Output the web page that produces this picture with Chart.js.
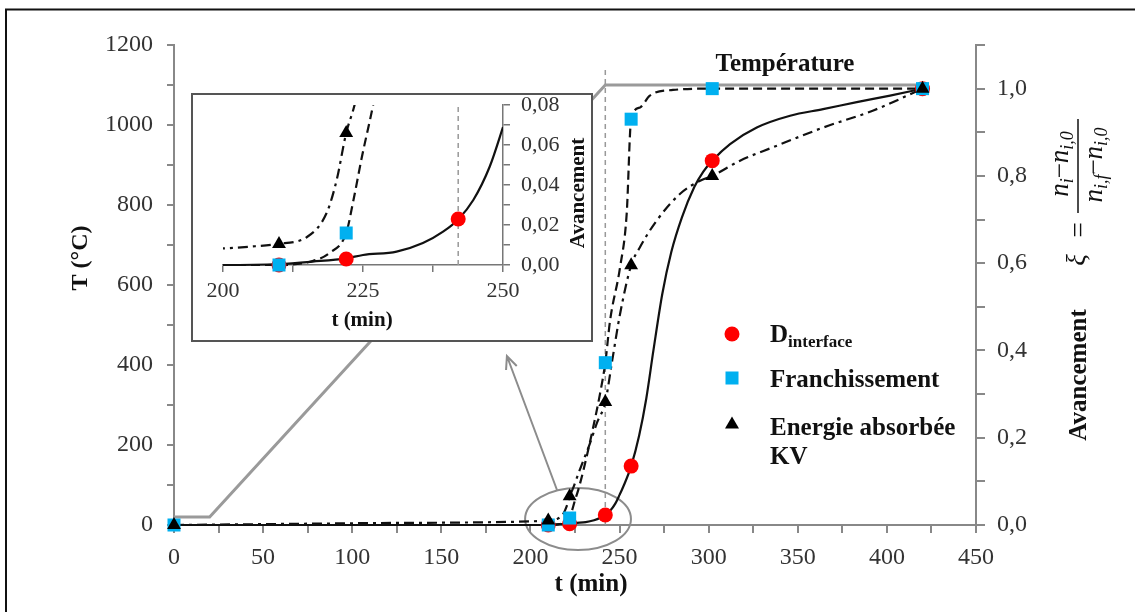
<!DOCTYPE html>
<html>
<head>
<meta charset="utf-8">
<script src="https://cdn.jsdelivr.net/npm/chart.js@4.4.1/dist/chart.umd.min.js"></script>
<style>
body { margin: 0; background: #fff; overflow: hidden; }
#wrap { position: relative; width: 1135px; height: 612px; }
#main { display: block; }
#inset { position: absolute; left: 191px; top: 93px; width: 402px; height: 249px; box-sizing: border-box; border: 2px solid #555; background: #fff; }
#zoom { display: block; }
</style>
</head>
<body>
<div id="wrap">
  <canvas id="main" width="1135" height="612"></canvas>
  <div id="inset"><canvas id="zoom" width="398" height="245"></canvas></div>
</div>
<script>
// temperature programme (left axis, °C)
const tempT = [0, 20, 242, 420];
const tempC = [20, 20, 1100, 1100];

// measured points (right axis, avancement)
const sampleT = [0, 210, 222, 242, 256.5, 302, 420];
const dInterfaceT = [210, 222, 242, 256.5, 302, 420];
const dInterfaceXi = [0, 0.003, 0.023, 0.135, 0.835, 1.0];
const franchXi = [0, 0, 0.016, 0.372, 0.93, 1.0, 1.0];
const energieXi = [0, 0.0105, 0.066, 0.282, 0.595, 0.80, 1.0];

// fitted curves
const dCurveT = [0, 200, 210, 216, 222, 225, 231, 235.7, 239.3, 242, 244.7, 247.6, 250, 252, 256.5, 261, 265, 269, 274, 279, 285, 292, 297, 302, 312, 327, 345.7, 364.2, 383.1, 401.8, 420];
const dCurveXi = [0, 0, 0.0005, 0.0017, 0.0033, 0.005, 0.0067, 0.011, 0.0167, 0.0228, 0.0325, 0.049, 0.069, 0.087, 0.135, 0.205, 0.29, 0.40, 0.53, 0.625, 0.705, 0.775, 0.81, 0.835, 0.873, 0.911, 0.938, 0.953, 0.969, 0.984, 1.0];
const fCurveT = [0, 200, 210, 216, 219, 222, 223.3, 224.8, 226.8, 230, 235, 239, 242, 244.7, 250.3, 254, 256.5, 261.5, 267, 280, 302, 420];
const fCurveXi = [0, 0, 0, 0.002, 0.006, 0.016, 0.0325, 0.054, 0.08, 0.13, 0.22, 0.30, 0.372, 0.469, 0.591, 0.713, 0.93, 0.957, 0.984, 0.997, 1.0, 1.0];
const eCurveT = [0, 100, 200, 205, 209.6, 215, 218.5, 220.3, 222, 223.3, 228, 233.4, 237.2, 242, 246, 250.3, 256.5, 261.5, 270.9, 284, 295.2, 302, 317.6, 336.3, 364.4, 392.4, 420];
const eCurveXi = [0, 0.004, 0.0083, 0.0092, 0.0105, 0.014, 0.026, 0.0425, 0.066, 0.078, 0.13, 0.187, 0.233, 0.282, 0.38, 0.484, 0.595, 0.637, 0.698, 0.759, 0.789, 0.80, 0.835, 0.866, 0.911, 0.95, 1.0];

// end of the ramp, dashed marker
const rampEndT = [242, 242];
const rampEndXi = [0, 1.05];

const SERIF = "'Liberation Serif', 'Times New Roman', serif";
const TXT = '#333';
const AXIS = '#888';
Chart.defaults.font.family = SERIF;

function pts(xs, ys) {
  return xs.map((x, i) => ({ x: x, y: ys[i] }));
}

function curve(xs, ys, dash, axis) {
  return {
    data: pts(xs, ys), yAxisID: axis, borderColor: '#111', borderWidth: 2.2,
    borderDash: dash, pointRadius: 0, cubicInterpolationMode: 'monotone', order: 4
  };
}

// lower order is drawn on top: triangles over squares over circles
function markers(xs, ys, style, color, r, axis, order) {
  return {
    data: pts(xs, ys), yAxisID: axis, showLine: false, pointStyle: style,
    pointRadius: r, pointBackgroundColor: color, pointBorderColor: color,
    pointBorderWidth: 0, order: order
  };
}

function textPieces(ctx, pieces, cx, base) {
  let w = 0;
  pieces.forEach(p => { ctx.font = p[1]; p.w = ctx.measureText(p[0]).width; w += p.w; });
  let x = cx - w / 2;
  ctx.textAlign = 'left';
  pieces.forEach(p => { ctx.font = p[1]; ctx.fillText(p[0], x, base + p[2]); x += p.w; });
}

function rotText(ctx, txt, font, x, y) {
  ctx.save();
  ctx.translate(x, y);
  ctx.rotate(-Math.PI / 2);
  ctx.font = font;
  ctx.textAlign = 'center';
  ctx.textBaseline = 'alphabetic';
  ctx.fillText(txt, 0, 0);
  ctx.restore();
}

const frame = {
  id: 'frame',
  beforeDraw(chart) {
    const ctx = chart.ctx;
    ctx.save();
    ctx.fillStyle = '#fff';
    ctx.fillRect(0, 0, chart.width, chart.height);
    ctx.strokeStyle = '#111';
    ctx.lineWidth = 2;
    ctx.beginPath();
    ctx.moveTo(6, chart.height + 2);
    ctx.lineTo(6, 9.5);
    ctx.lineTo(chart.width + 2, 9.5);
    ctx.stroke();
    ctx.restore();
  }
};

// ellipse around the zoomed region and arrow to the inset
const callout = {
  id: 'callout',
  beforeDatasetsDraw(chart) {
    const ctx = chart.ctx, sx = chart.scales.x, sy = chart.scales.y;
    const cx = sx.getPixelForValue(226.7), cy = sy.getPixelForValue(15);
    const rx = sx.getPixelForValue(256.4) - cx, ry = cy - sy.getPixelForValue(92.5);
    ctx.save();
    ctx.strokeStyle = '#8c8c8c';
    ctx.lineWidth = 2;
    ctx.beginPath();
    ctx.ellipse(cx, cy, rx, ry, 0, 0, Math.PI * 2);
    ctx.stroke();
    const x0 = sx.getPixelForValue(214.9), y0 = sy.getPixelForValue(87.5);
    const x1 = sx.getPixelForValue(186.8), y1 = sy.getPixelForValue(422.5);
    ctx.beginPath();
    ctx.moveTo(x0, y0);
    ctx.lineTo(x1, y1);
    const a = Math.atan2(y1 - y0, x1 - x0);
    ctx.moveTo(x1 - 14 * Math.cos(a - 0.42), y1 - 14 * Math.sin(a - 0.42));
    ctx.lineTo(x1, y1);
    ctx.lineTo(x1 - 14 * Math.cos(a + 0.42), y1 - 14 * Math.sin(a + 0.42));
    ctx.stroke();
    ctx.restore();
  }
};

const labels = {
  id: 'labels',
  afterDraw(chart) {
    const ctx = chart.ctx;
    ctx.save();
    ctx.fillStyle = '#111';
    ctx.textBaseline = 'alphabetic';
    ctx.textAlign = 'center';
    ctx.font = 'bold 25px ' + SERIF;
    ctx.fillText('Température', 785, 71);
    ctx.fillText('t (min)', 591, 591);
    rotText(ctx, 'T (°C)', 'bold 24px ' + SERIF, 87, 258);
    rotText(ctx, 'Avancement', 'bold 25px ' + SERIF, 1086, 375);

    // formula xi = (n_i - n_i,0) / (n_i,f - n_i,0)
    ctx.save();
    ctx.translate(1078, 166);
    ctx.rotate(-Math.PI / 2);
    const it = 'italic 27px ' + SERIF, sub = 'italic 18px ' + SERIF, rg = '27px ' + SERIF;
    textPieces(ctx, [['n', it, 0], ['i', sub, 5], ['−', rg, 0], ['n', it, 0], ['i,0', sub, 5]], 2, -10);
    textPieces(ctx, [['n', it, 0], ['i,f', sub, 5], ['−', rg, 0], ['n', it, 0], ['i,0', sub, 5]], 1, 24);
    ctx.strokeStyle = '#111';
    ctx.lineWidth = 1.5;
    ctx.beginPath();
    ctx.moveTo(-47, 0);
    ctx.lineTo(47, 0);
    ctx.stroke();
    textPieces(ctx, [['=', rg, 0]], -64, 9);
    textPieces(ctx, [['ξ', it, 0]], -94, 7);
    ctx.restore();

    // legend
    ctx.fillStyle = '#ff0000';
    ctx.beginPath();
    ctx.arc(732, 334, 7.5, 0, Math.PI * 2);
    ctx.fill();
    ctx.fillStyle = '#00b0f0';
    ctx.fillRect(725.5, 371.5, 13, 13);
    ctx.fillStyle = '#000';
    ctx.beginPath();
    ctx.moveTo(732, 416.5);
    ctx.lineTo(739, 428.5);
    ctx.lineTo(725, 428.5);
    ctx.closePath();
    ctx.fill();
    ctx.fillStyle = '#111';
    ctx.textAlign = 'left';
    ctx.font = 'bold 25px ' + SERIF;
    ctx.fillText('D', 770, 342);
    const dw = ctx.measureText('D').width;
    ctx.font = 'bold 17px ' + SERIF;
    ctx.fillText('interface', 770 + dw, 347);
    ctx.font = 'bold 25px ' + SERIF;
    ctx.fillText('Franchissement', 770, 387);
    ctx.fillText('Energie absorbée', 770, 435);
    ctx.fillText('KV', 770, 464);
    ctx.restore();
  }
};

new Chart(document.getElementById('main'), {
  type: 'line',
  data: {
    datasets: [
      { data: pts(tempT, tempC), yAxisID: 'y', borderColor: '#9a9a9a', borderWidth: 3, pointRadius: 0, order: 6 },
      { data: pts(rampEndT, rampEndXi), yAxisID: 'y1', borderColor: '#999', borderWidth: 1.5, borderDash: [5, 4], pointRadius: 0, order: 5 },
      curve(dCurveT, dCurveXi, [], 'y1'),
      curve(fCurveT, fCurveXi, [9, 5], 'y1'),
      curve(eCurveT, eCurveXi, [10, 5, 3, 5], 'y1'),
      markers(dInterfaceT, dInterfaceXi, 'circle', '#ff0000', 7.5, 'y1', 2),
      markers(sampleT, franchXi, 'rect', '#00b0f0', 9.2, 'y1', 1),
      markers(sampleT, energieXi, 'triangle', '#000', 8, 'y1', 0)
    ].map(d => Object.assign({ clip: false, fill: false, tension: 0 }, d))
  },
  options: {
    responsive: false,
    animation: false,
    events: [],
    layout: { padding: { left: 62, top: 45, right: 0, bottom: 0 } },
    plugins: { legend: { display: false }, tooltip: { enabled: false } },
    scales: {
      x: {
        type: 'linear', min: 0, max: 450, position: 'bottom',
        afterFit: s => { s.height = 87; },
        ticks: { stepSize: 25, autoSkip: false, maxRotation: 0, padding: 10, color: TXT, font: { size: 24 },
          callback: v => (v % 50 === 0 ? v : '') },
        grid: { drawOnChartArea: false, tickLength: 8, color: AXIS, lineWidth: 2 },
        border: { color: AXIS, width: 2 }
      },
      y: {
        position: 'left', min: 0, max: 1200,
        afterFit: s => { s.width = 112; },
        ticks: { stepSize: 100, autoSkip: false, padding: 14, color: TXT, font: { size: 24 },
          callback: v => (v % 200 === 0 ? v : '') },
        grid: { drawOnChartArea: false, tickLength: 7, color: AXIS, lineWidth: 2 },
        border: { color: AXIS, width: 2 }
      },
      y1: {
        position: 'right', min: 0, max: 1.1,
        afterFit: s => { s.width = 159; },
        ticks: { stepSize: 0.1, autoSkip: false, padding: 12, color: TXT, font: { size: 24 },
          callback: v => (Math.round(v * 10) % 2 === 0 ? v.toFixed(1).replace('.', ',') : '') },
        grid: { drawOnChartArea: false, tickLength: 9, color: AXIS, lineWidth: 2 },
        border: { color: AXIS, width: 2 }
      }
    }
  },
  plugins: [frame, callout, labels]
});

// inset: zoom on 200-250 min
const insetLabels = {
  id: 'insetLabels',
  afterDraw(chart) {
    const ctx = chart.ctx;
    ctx.save();
    ctx.fillStyle = '#111';
    ctx.textAlign = 'center';
    ctx.textBaseline = 'alphabetic';
    ctx.font = 'bold 21px ' + SERIF;
    ctx.fillText('t (min)', 169, 231);
    rotText(ctx, 'Avancement', 'bold 21px ' + SERIF, 391, 98);
    ctx.restore();
  }
};

const insetClip = { left: 0, top: 0, right: 0, bottom: 10 };
new Chart(document.getElementById('zoom'), {
  type: 'line',
  data: {
    datasets: [
      { data: pts(rampEndT, rampEndXi), borderColor: '#999', borderWidth: 1.5, borderDash: [5, 4], pointRadius: 0, order: 5 },
      curve(dCurveT, dCurveXi, [], 'y'),
      curve(fCurveT, fCurveXi, [9, 5], 'y'),
      curve(eCurveT, eCurveXi, [10, 5, 3, 5], 'y'),
      markers(dInterfaceT, dInterfaceXi, 'circle', '#ff0000', 7.5, 'y', 2),
      markers(sampleT, franchXi, 'rect', '#00b0f0', 9.2, 'y', 1),
      markers(sampleT, energieXi, 'triangle', '#000', 8, 'y', 0)
    ].map(d => Object.assign({ clip: insetClip, fill: false, tension: 0, yAxisID: 'y' }, d))
  },
  options: {
    responsive: false,
    animation: false,
    events: [],
    layout: { padding: { left: 30, top: 10, right: 0, bottom: 0 } },
    plugins: { legend: { display: false }, tooltip: { enabled: false } },
    scales: {
      x: {
        type: 'linear', min: 200, max: 250, position: 'bottom',
        afterFit: s => { s.height = 75; s.paddingLeft = 0; s.paddingRight = 0; },
        ticks: { stepSize: 12.5, autoSkip: false, maxRotation: 0, padding: 6, color: TXT, font: { size: 22 },
          callback: v => (v % 25 === 0 ? v : '') },
        grid: { drawOnChartArea: false, tickLength: 7, color: '#777', lineWidth: 1.5 },
        border: { color: '#777', width: 1.5 }
      },
      y: {
        position: 'right', min: 0, max: 0.08,
        afterFit: s => { s.width = 88; s.paddingTop = 0; s.paddingBottom = 0; },
        ticks: { stepSize: 0.01, autoSkip: false, padding: 11, color: TXT, font: { size: 22 },
          callback: v => (Math.round(v * 100) % 2 === 0 ? v.toFixed(2).replace('.', ',') : '') },
        grid: { drawOnChartArea: false, tickLength: 7, color: '#777', lineWidth: 1.5 },
        border: { color: '#777', width: 1.5 }
      }
    }
  },
  plugins: [insetLabels]
});
</script>
</body>
</html>
